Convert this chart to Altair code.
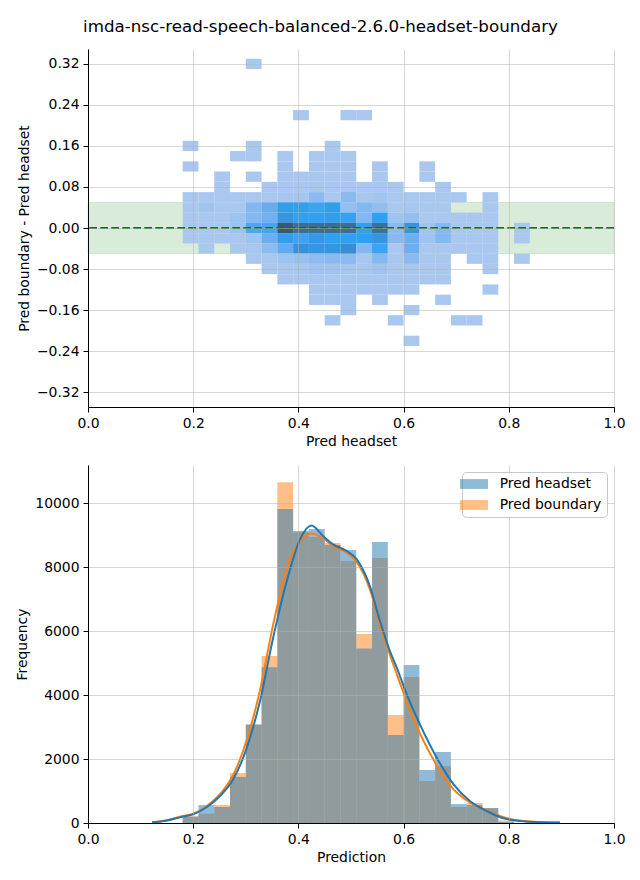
import altair as alt
import pandas as pd

FONT = "DejaVu Sans"
FS = 13.9
W, H = 526, 358

TITLE = "imda-nsc-read-speech-balanced-2.6.0-headset-boundary"

# ---------------- top panel: 2D histogram ----------------
heat_x_left = [0.18, 0.21, 0.24, 0.27, 0.30, 0.33, 0.36, 0.39, 0.42, 0.45, 0.48,
               0.51, 0.54, 0.57, 0.60, 0.63, 0.66, 0.69, 0.72, 0.75, 0.78, 0.81]
heat_bin_w = 0.03
heat_bin_h = 0.02

heat_y_center = [0.32, 0.22, 0.16, 0.14, 0.12, 0.10, 0.08, 0.06, 0.04, 0.02, 0.00,
                 -0.02, -0.04, -0.06, -0.08, -0.10, -0.12, -0.14, -0.16, -0.18, -0.22]

c_p32 = [0, 0, 0, 0, 30, 0, 0, 0, 0, 0, 0, 0, 0, 0, 0, 0, 0, 0, 0, 0, 0, 0]
c_p22 = [0, 0, 0, 0, 0, 0, 0, 30, 0, 0, 30, 30, 0, 0, 0, 0, 0, 0, 0, 0, 0, 0]
c_p16 = [30, 0, 0, 0, 30, 0, 0, 0, 0, 30, 0, 0, 0, 0, 0, 0, 0, 0, 0, 0, 0, 0]
c_p14 = [0, 0, 0, 30, 30, 0, 30, 0, 30, 30, 30, 0, 0, 0, 0, 0, 0, 0, 0, 0, 0, 0]
c_p12 = [30, 0, 0, 0, 0, 0, 30, 0, 30, 30, 30, 0, 30, 0, 0, 30, 0, 0, 0, 0, 0, 0]
c_p10 = [0, 0, 30, 0, 30, 0, 30, 30, 30, 30, 30, 0, 30, 0, 0, 30, 0, 0, 0, 0, 0, 0]
c_p08 = [0, 0, 30, 0, 0, 30, 30, 30, 100, 30, 30, 30, 30, 30, 0, 0, 30, 0, 0, 0, 0, 0]
c_p06 = [30, 30, 30, 30, 30, 30, 150, 150, 700, 30, 700, 100, 200, 30, 30, 30, 30, 30, 0, 30, 0, 0]
c_p04 = [30, 250, 30, 30, 850, 1350, 2100, 2050, 1900, 2100, 500, 850, 550, 30, 100, 30, 30, 0, 0, 30, 0, 0]
c_p02 = [30, 30, 30, 300, 800, 1150, 2300, 2000, 2000, 2100, 1950, 850, 2000, 300, 500, 30, 30, 30, 30, 30, 0, 0]
c_z00 = [30, 30, 30, 300, 1700, 1800, 4000, 3400, 3400, 3400, 3400, 2000, 3300, 700, 2300, 250, 800, 30, 30, 30, 0, 30]
c_m02 = [30, 30, 30, 30, 300, 1250, 2100, 1900, 2200, 2000, 2000, 2000, 2300, 750, 1250, 250, 800, 30, 30, 30, 0, 30]
c_m04 = [0, 30, 0, 30, 100, 650, 1450, 2350, 2250, 2300, 2500, 800, 1900, 30, 1250, 30, 30, 30, 30, 30, 0, 0]
c_m06 = [0, 0, 0, 0, 30, 30, 300, 450, 600, 750, 650, 100, 800, 30, 700, 30, 30, 0, 30, 30, 0, 30]
c_m08 = [0, 0, 0, 0, 0, 30, 30, 100, 250, 250, 150, 100, 250, 30, 100, 30, 30, 0, 0, 30, 0, 0]
c_m10 = [0, 0, 0, 0, 0, 0, 30, 30, 30, 30, 30, 30, 30, 30, 30, 30, 30, 0, 0, 0, 0, 0]
c_m12 = [0, 0, 0, 0, 0, 0, 0, 0, 30, 30, 30, 30, 30, 30, 30, 0, 0, 0, 0, 30, 0, 0]
c_m14 = [0, 0, 0, 0, 0, 0, 0, 0, 30, 30, 30, 0, 30, 0, 0, 0, 30, 0, 0, 0, 0, 0]
c_m16 = [0, 0, 0, 0, 0, 0, 0, 0, 0, 0, 30, 0, 0, 0, 30, 0, 0, 0, 0, 0, 0, 0]
c_m18 = [0, 0, 0, 0, 0, 0, 0, 0, 0, 30, 0, 0, 0, 30, 0, 0, 0, 30, 30, 0, 0, 0]
c_m22 = [0, 0, 0, 0, 0, 0, 0, 0, 0, 0, 0, 0, 0, 0, 30, 0, 0, 0, 0, 0, 0, 0]

heat_rows = [c_p32, c_p22, c_p16, c_p14, c_p12, c_p10, c_p08, c_p06, c_p04, c_p02, c_z00,
             c_m02, c_m04, c_m06, c_m08, c_m10, c_m12, c_m14, c_m16, c_m18, c_m22]

tol_band = [-0.05, 0.05]

# ---------------- bottom panel: histograms + KDE ----------------
hist_left = [0.18, 0.21, 0.24, 0.27, 0.30, 0.33, 0.36, 0.39, 0.42, 0.45,
             0.48, 0.51, 0.54, 0.57, 0.60, 0.63, 0.66, 0.69, 0.72, 0.75, 0.78]
hist_w = 0.03
headset_counts = [200, 560, 500, 1440, 3080, 4870, 9810, 9130, 9190, 8690,
                  8530, 5450, 8780, 2750, 4940, 1660, 2220, 590, 560, 470, 30]
boundary_counts = [210, 290, 560, 1560, 3080, 5220, 10650, 9090, 8940, 8750,
                   8190, 5910, 8280, 3375, 4560, 1310, 1780, 500, 625, 460, 80]

kde_x = [0.122, 0.15, 0.18, 0.20, 0.226, 0.251, 0.276, 0.302, 0.327, 0.352, 0.378,
         0.403, 0.425, 0.447, 0.466, 0.492, 0.511, 0.536, 0.555, 0.574, 0.587, 0.606,
         0.631, 0.663, 0.695, 0.726, 0.758, 0.790, 0.821, 0.86, 0.897]
kde_headset = [20, 80, 200, 270, 500, 844, 1365, 2354, 3812, 5792, 7562,
               8865, 9302, 8969, 8708, 8500, 8240, 7400, 6312, 5375, 4854, 4021,
               3083, 2042, 1208, 687, 375, 146, 62, 25, 15]
kde_boundary = [20, 85, 220, 290, 530, 900, 1500, 2600, 4150, 6200, 7950,
                8800, 9050, 8900, 8650, 8450, 8150, 7300, 6200, 5250, 4650, 3800,
                2800, 1800, 1050, 640, 400, 180, 75, 30, 15]

series_names = ["Pred headset", "Pred boundary"]
series_colors = ["#1f77b4", "#ff7f0e"]

# ---------------- build tables ----------------
heat_records = []
for yc, row in zip(heat_y_center, heat_rows):
    for xl, cnt in zip(heat_x_left, row):
        if cnt > 0:
            heat_records.append({"x": xl, "x2": xl + heat_bin_w,
                                 "y": yc - heat_bin_h / 2, "y2": yc + heat_bin_h / 2,
                                 "count": cnt})
heat_df = pd.DataFrame(heat_records)

band_df = pd.DataFrame({"x0": [0.0], "x1": [1.0], "lo": [tol_band[0]], "hi": [tol_band[1]]})
zero_df = pd.DataFrame({"zero": [0.0]})

hist_records = []
for name, counts in [("Pred boundary", boundary_counts), ("Pred headset", headset_counts)]:
    for xl, c in zip(hist_left, counts):
        hist_records.append({"left": xl, "right": xl + hist_w, "count": c, "base": 0, "series": name})
hist_df = pd.DataFrame(hist_records)

kde_b_df = pd.DataFrame({"x": kde_x, "y": kde_boundary})
kde_h_df = pd.DataFrame({"x": kde_x, "y": kde_headset})

# ---------------- scales / axes ----------------
xs_top = alt.Scale(domain=[0, 1], nice=False, zero=False)
ys_top = alt.Scale(domain=[-0.349, 0.349], nice=False, zero=False)
xs_bot = alt.Scale(domain=[0, 1], nice=False, zero=False)
ys_bot = alt.Scale(domain=[0, 11189], nice=False, zero=False)

common_axis = dict(labelFlush=False, labelOverlap=False, grid=True, zindex=1)
ax_x_top = alt.Axis(title="Pred headset", values=[0, 0.2, 0.4, 0.6, 0.8, 1.0], format=".1f", **common_axis)
ax_y_top = alt.Axis(title="Pred boundary - Pred headset",
                    values=[-0.32, -0.24, -0.16, -0.08, 0, 0.08, 0.16, 0.24, 0.32],
                    format=".2f", **common_axis)
ax_x_bot = alt.Axis(title="Prediction", values=[0, 0.2, 0.4, 0.6, 0.8, 1.0], format=".1f", **common_axis)
ax_y_bot = alt.Axis(title="Frequency", values=[0, 2000, 4000, 6000, 8000, 10000], format="d", **common_axis)

# ---------------- top chart ----------------
band = alt.Chart(band_df).mark_rect(
    fill="green", fillOpacity=0.15, stroke="green", strokeOpacity=0.1, strokeWidth=1
).encode(
    x=alt.X("x0:Q", scale=xs_top, axis=ax_x_top),
    x2="x1:Q",
    y=alt.Y("lo:Q", scale=ys_top, axis=ax_y_top),
    y2="hi:Q",
)

heat = alt.Chart(heat_df).mark_rect().encode(
    x=alt.X("x:Q", scale=xs_top, axis=ax_x_top),
    x2="x2:Q",
    y=alt.Y("y:Q", scale=ys_top, axis=ax_y_top),
    y2="y2:Q",
    color=alt.Color("count:Q",
                    scale=alt.Scale(domain=[0, 2000, 4000],
                                    range=["#abc9ef", "#30a0f2", "#3c5675"]),
                    legend=None),
)

zero_line = alt.Chart(zero_df).mark_rule(
    color="green", strokeDash=[7.7, 3.3], strokeWidth=2
).encode(
    y=alt.Y("zero:Q", scale=ys_top, axis=ax_y_top),
)

top = alt.layer(band, heat, zero_line).properties(width=W, height=H)

# ---------------- bottom chart ----------------
bars = alt.Chart(hist_df).mark_rect(opacity=0.5).encode(
    x=alt.X("left:Q", scale=xs_bot, axis=ax_x_bot),
    x2="right:Q",
    y=alt.Y("count:Q", scale=ys_bot, axis=ax_y_bot),
    y2="base:Q",
    color=alt.Color(
        "series:N",
        scale=alt.Scale(domain=series_names, range=series_colors),
        legend=alt.Legend(
            title=None, orient="top-right", offset=7, zindex=2,
            symbolType="M-2,-0.7L2,-0.7L2,0.7L-2,0.7Z", symbolSize=196,
            symbolStrokeWidth=0, symbolOpacity=0.5,
            labelFont=FONT, labelFontSize=FS, labelColor="black",
            labelOffset=18.7, rowPadding=7, padding=5,
            fillColor="white", strokeColor="#c8c8c8", cornerRadius=4,
        ),
    ),
)

line_b = alt.Chart(kde_b_df).mark_line(color="#ff7f0e", strokeWidth=2, interpolate="monotone").encode(
    x=alt.X("x:Q", scale=xs_bot, axis=ax_x_bot),
    y=alt.Y("y:Q", scale=ys_bot, axis=ax_y_bot),
)
line_h = alt.Chart(kde_h_df).mark_line(color="#1f77b4", strokeWidth=2, interpolate="monotone").encode(
    x=alt.X("x:Q", scale=xs_bot, axis=ax_x_bot),
    y=alt.Y("y:Q", scale=ys_bot, axis=ax_y_bot),
)

bottom = alt.layer(bars, line_b, line_h).properties(width=W, height=H)

chart = alt.vconcat(top, bottom, spacing=58, bounds="flush").properties(
    title=alt.TitleParams(TITLE, font=FONT, fontSize=16.7, fontWeight="normal",
                          color="black", anchor="middle", offset=13.5),
    padding={"left": 15, "top": 18, "right": 10, "bottom": 10},
).configure_view(stroke=None).configure_legend(
    strokeWidth=1,
).configure_axis(
    labelFont=FONT, labelFontSize=FS, labelColor="black",
    titleFont=FONT, titleFontSize=FS, titleFontWeight="normal", titleColor="black",
    domainColor="black", domainWidth=1, tickColor="black", tickWidth=1, tickSize=5,
    labelPadding=4, titlePadding=5,
    gridColor="#b0b0b0", gridOpacity=0.5, gridWidth=1,
)

chart.save("out.html", embed_options={"renderer": "svg", "actions": False})
